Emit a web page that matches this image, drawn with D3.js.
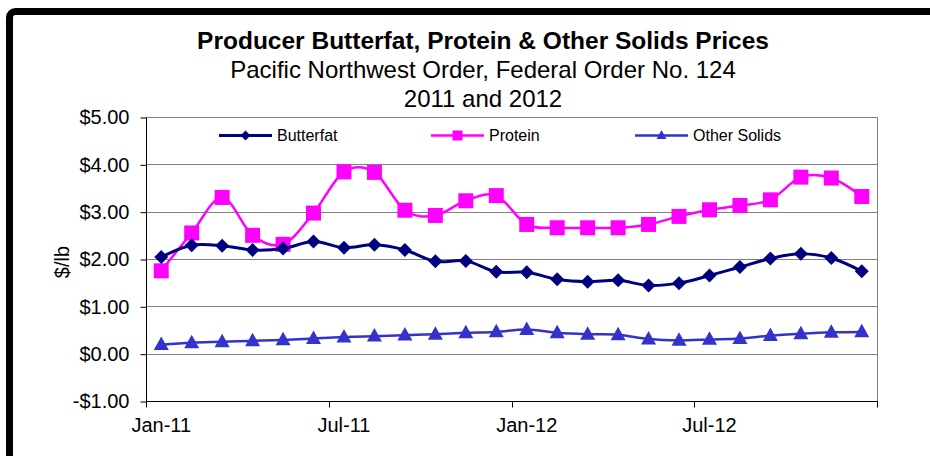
<!DOCTYPE html>
<html>
<head>
<meta charset="utf-8">
<script src="https://cdn.jsdelivr.net/npm/d3@7"></script>
<style>
  html, body { margin: 0; padding: 0; background: #fff; }
  svg { display: block; font-family: "Liberation Sans", Arial, sans-serif; }
</style>
</head>
<body>
<div id="chart"></div>
<script>
const months = ["Jan-11","Feb-11","Mar-11","Apr-11","May-11","Jun-11","Jul-11","Aug-11","Sep-11","Oct-11","Nov-11","Dec-11",
                "Jan-12","Feb-12","Mar-12","Apr-12","May-12","Jun-12","Jul-12","Aug-12","Sep-12","Oct-12","Nov-12","Dec-12"];

const butterfat = [2.04, 2.29, 2.28, 2.19, 2.22, 2.37, 2.24, 2.30, 2.19, 1.95, 1.96, 1.73,
                   1.72, 1.57, 1.52, 1.55, 1.44, 1.49, 1.65, 1.83, 2.01, 2.11, 2.02, 1.74];
const protein = [1.75, 2.55, 3.30, 2.50, 2.31, 2.97, 3.84, 3.83, 3.03, 2.92, 3.23, 3.34,
                 2.73, 2.66, 2.66, 2.66, 2.73, 2.90, 3.04, 3.13, 3.25, 3.73, 3.71, 3.32];
const otherSolids = [0.19, 0.23, 0.25, 0.27, 0.29, 0.32, 0.35, 0.37, 0.39, 0.41, 0.44, 0.46,
                     0.51, 0.44, 0.41, 0.40, 0.31, 0.28, 0.30, 0.32, 0.38, 0.42, 0.45, 0.46];

const yTicks = [-1, 0, 1, 2, 3, 4, 5];
const xLabels = ["Jan-11", "Jul-11", "Jan-12", "Jul-12"];

const titleLines = ["Producer Butterfat, Protein & Other Solids Prices",
                    "Pacific Northwest Order, Federal Order No. 124",
                    "2011 and 2012"];

const series = [
  { name: "Butterfat", values: butterfat, color: "#000080", shape: "diamond", width: 3 },
  { name: "Protein", values: protein, color: "#FF00FF", shape: "square", width: 2.5 },
  { name: "Other Solids", values: otherSolids, color: "#3333CC", shape: "triangle", width: 2.5 }
];

const width = 930, height = 456;
const plot = { left: 146, right: 877, top: 117, bottom: 401 };

const svg = d3.select("#chart").append("svg")
  .attr("width", width)
  .attr("height", height);

// outer frame (runs off the right and bottom edges)
svg.append("rect")
  .attr("x", 9.5).attr("y", 11.5)
  .attr("width", 1000).attr("height", 600)
  .attr("rx", 6)
  .attr("fill", "#fff")
  .attr("stroke", "#000")
  .attr("stroke-width", 7);

const x = d3.scaleBand()
  .domain(months)
  .range([plot.left, plot.right]);

const y = d3.scaleLinear()
  .domain([-1, 5])
  .range([plot.bottom, plot.top]);

// title
svg.selectAll("text.title")
  .data(titleLines)
  .join("text")
  .attr("class", "title")
  .attr("x", 483)
  .attr("y", (d, i) => 49 + i * 29)
  .attr("text-anchor", "middle")
  .attr("font-size", (d, i) => i === 0 ? "24.5px" : "24px")
  .attr("font-weight", (d, i) => i === 0 ? "bold" : "normal")
  .attr("fill", "#000")
  .text(d => d);

// gridlines
svg.append("g")
  .selectAll("line")
  .data(yTicks.filter(t => t > -1))
  .join("line")
  .attr("x1", plot.left).attr("x2", plot.right)
  .attr("y1", d => Math.round(y(d)) + 0.5)
  .attr("y2", d => Math.round(y(d)) + 0.5)
  .attr("stroke", "#808080")
  .attr("stroke-width", 1);

// right border
svg.append("line")
  .attr("x1", plot.right + 0.5).attr("x2", plot.right + 0.5)
  .attr("y1", plot.top).attr("y2", plot.bottom)
  .attr("stroke", "#808080");

// y axis
const yAxis = d3.axisLeft(y)
  .tickValues(yTicks)
  .tickSize(6)
  .tickPadding(11)
  .tickFormat(d => (d < 0 ? "-$" : "$") + Math.abs(d).toFixed(2));

const gy = svg.append("g")
  .attr("transform", `translate(${plot.left + 0.5},0.5)`)
  .call(yAxis);
gy.select(".domain").attr("stroke", "#000").attr("d", `M0,${plot.top}V${plot.bottom}`);
gy.selectAll(".tick line").attr("stroke", "#000");
gy.selectAll("text").attr("font-size", "20px").attr("font-family", "Liberation Sans, Arial, sans-serif").attr("fill", "#000");

// x axis
const tickIdx = [0, 6, 12, 18];
const gx = svg.append("g").attr("transform", `translate(0,${plot.bottom + 0.5})`);
gx.append("line")
  .attr("x1", plot.left).attr("x2", plot.right + 1)
  .attr("stroke", "#000");
gx.selectAll("line.tk")
  .data([...tickIdx.map(i => x(months[i])), plot.right])
  .join("line")
  .attr("class", "tk")
  .attr("x1", d => Math.round(d) + 0.5).attr("x2", d => Math.round(d) + 0.5)
  .attr("y1", 0).attr("y2", 6)
  .attr("stroke", "#000");
gx.selectAll("text")
  .data(xLabels)
  .join("text")
  .attr("x", d => x(d) + x.bandwidth() / 2)
  .attr("y", 30)
  .attr("text-anchor", "middle")
  .attr("font-size", "20px")
  .text(d => d);

// y axis title
svg.append("text")
  .attr("transform", `translate(69,262) rotate(-90)`)
  .attr("text-anchor", "middle")
  .attr("font-size", "20px")
  .text("$/lb");

function markerPath(shape, s) {
  if (shape === "diamond") return `M0,${-s}L${s},0L0,${s}L${-s},0Z`;
  if (shape === "square") return `M${-s},${-s}H${s}V${s}H${-s}Z`;
  const h = s * 1.8;
  return `M0,${-h * 0.6}L${s},${h * 0.4}L${-s},${h * 0.4}Z`;
}

const cx = d => x(d) + x.bandwidth() / 2;
const line = d3.line()
  .curve(d3.curveCardinal.tension(0))
  .x((d, i) => cx(months[i]))
  .y(d => y(d));

// draw in reverse so butterfat sits on top
[series[2], series[1], series[0]].forEach(s => {
  const g = svg.append("g");
  g.append("path")
    .datum(s.values)
    .attr("fill", "none")
    .attr("stroke", s.color)
    .attr("stroke-width", s.width)
    .attr("d", line);
  const size = s.shape === "diamond" ? 7 : 7.5;
  g.selectAll("path.m")
    .data(s.values)
    .join("path")
    .attr("class", "m")
    .attr("transform", (d, i) => `translate(${cx(months[i])},${y(d)})`)
    .attr("d", markerPath(s.shape, size))
    .attr("fill", s.color);
});

// legend
const legendPos = [219, 431, 635];
const leg = svg.append("g");
series.forEach((s, i) => {
  const lx = legendPos[i];
  leg.append("line")
    .attr("x1", lx).attr("x2", lx + 53)
    .attr("y1", 135.5).attr("y2", 135.5)
    .attr("stroke", s.color)
    .attr("stroke-width", s.width);
  leg.append("path")
    .attr("transform", `translate(${lx + 26.5},135.5)`)
    .attr("d", markerPath(s.shape, 5))
    .attr("fill", s.color);
  leg.append("text")
    .attr("x", lx + 58)
    .attr("y", 141)
    .attr("font-size", "16px")
    .text(s.name);
});
</script>
</body>
</html>
